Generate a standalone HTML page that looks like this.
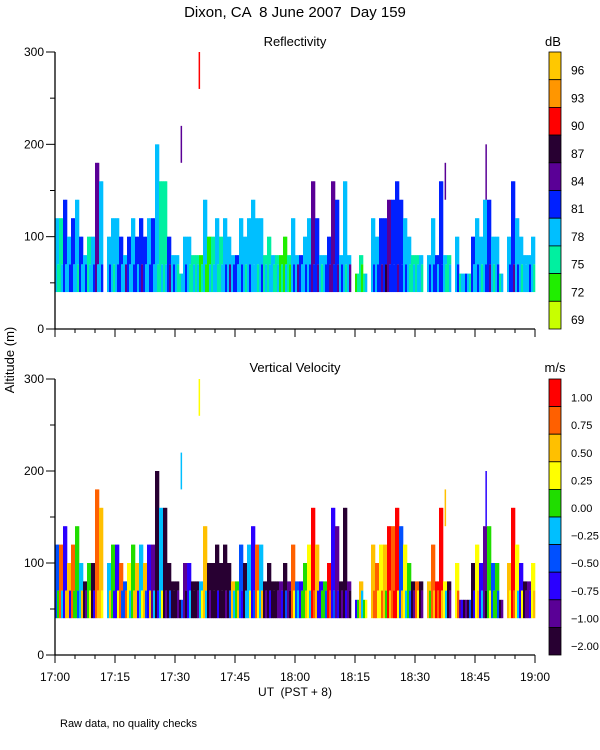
<!DOCTYPE html>
<html><head><meta charset="utf-8"><style>
html,body{margin:0;padding:0;background:#fff;}
svg{display:block;}
text{font-family:"Liberation Sans",sans-serif;fill:#000;white-space:pre;}
</style></head><body>
<svg id="chart" width="600" height="750" xmlns="http://www.w3.org/2000/svg">
<text x="295" y="17" font-size="15" text-anchor="middle" xml:space="preserve">Dixon, CA  8 June 2007  Day 159</text>
<text x="295" y="46" font-size="13" text-anchor="middle">Reflectivity</text>
<text x="553" y="46" font-size="13" text-anchor="middle">dB</text>
<text x="295" y="372" font-size="13" text-anchor="middle">Vertical Velocity</text>
<text x="555" y="372" font-size="13" text-anchor="middle">m/s</text>
<text x="0" y="0" font-size="13" text-anchor="middle" transform="translate(14,360) rotate(-90)">Altitude (m)</text>
<text x="295" y="696" font-size="12" text-anchor="middle" xml:space="preserve">UT  (PST + 8)</text>
<text x="60" y="727" font-size="11">Raw data, no quality checks</text>
<g id="g"></g>
</svg>
<script>
const tops = [120,120,140,100,120,140,100,80,100,100, 180,160,0,100,120,120,100,80,100,120, 100,120,100,120,120,200,160,160,100,80, 80,60,100,100,80,80,80,140,100,100, 120,100,120,100,80,80,120,100,120,140, 120,120,80,100,80,80,80,100,80,120, 80,80,100,120,160,120,80,80,100,160, 140,80,160,80,0,60,80,60,0,120, 100,120,120,140,140,160,140,120,100,80, 80,80,0,80,120,80,160,80,80,0, 100,60,60,60,100,120,100,140,140,100, 100,60,0,100,160,120,100,80,80,100];
const refl = [78,75,81,78,81,78,81,78,75,78, 84,78,0,78,78,78,81,78,81,78, 81,81,81,78,81,78,75,75,81,78, 78,75,78,78,75,75,72,78,72,75, 78,75,78,78,78,81,78,78,78,78, 78,78,75,75,78,75,72,72,75,78, 78,81,78,78,84,81,78,78,81,84, 81,78,78,78,0,72,75,75,0,78, 78,81,81,84,81,81,81,78,78,75, 75,78,0,78,78,81,81,78,75,0, 78,75,78,78,81,78,78,78,81,78, 78,75,0,78,81,78,78,78,78,78];
const refl2 = [75,78,78,81,78,75,78,81,78,81, 78,81,0,81,75,81,78,84,78,81, 78,84,78,81,78,75,78,78,84,81, 75,78,81,75,78,78,75,72,78,78, 75,78,81,84,81,78,81,75,81,78, 75,81,78,78,75,78,75,78,72,81, 84,78,81,81,81,84,75,81,84,81, 84,81,75,84,0,75,72,78,0,81, 81,84,87,81,81,84,81,81,75,78, 78,75,0,81,81,78,81,75,78,0, 81,78,81,75,78,81,75,81,84,75, 81,78,0,81,84,81,75,78,81,75];
const vel = [-0.5,0.75,-0.75,0.5,0.75,0,-0.25,-2,0,-2, 0.75,0.5,0,-0.25,0,-0.75,0.75,-0.5,0.25,0, 0.5,-0.25,0.5,-0.75,-1,-2,-0.25,-2,-2,-2, -2,-2,-1,-0.75,-2,-2,-0.25,0.5,-2,-2, -2,-2,-2,-2,0.5,0,-0.5,-2,-0.25,-0.75, 0.75,-0.25,-2,-2,-2,-2,-1,-2,-1,0.75, -0.5,-0.75,0,0.25,1,0.5,-0.75,0,1,-0.75, -1,-2,-2,-1,0,-0.75,0.5,0,0,0.5, 0.75,0.25,0.5,1,0.75,1,-0.5,0.25,0,-2, 0.75,-2,0,0.5,0.75,1,1,0.25,-2,0, 0.25,-1,-2,-2,-2,0.25,-0.75,-1,0,-0.5, 0,-2,0,0.5,1,0.25,-0.75,-2,-1,0.25];
const vel2 = [0,-0.25,0.5,-0.75,0,-0.5,0.5,-1,0.25,-0.75, 0.5,0.25,0,0.5,-0.75,0.25,-0.5,0.75,-0.25,0.5, -0.75,0.25,-0.5,0.5,-0.25,-0.75,0.25,-1,-0.5,-2, -1,-0.5,-2,-0.25,-2,-1,0.25,-0.25,-1,-2, -0.75,-2,-1,-0.5,-0.25,0.5,-0.75,-0.25,0.25,-0.5, 0.25,0.5,-1,-0.75,-2,-1,-0.75,-0.5,-2,0.25, -0.25,0,0.5,-0.25,0.75,-0.75,0,-0.5,0.75,-0.5, -0.75,-1,-0.75,-2,0,0,-0.25,0.25,0,0.75, 0.25,0.75,0,0.5,1,0.25,0.5,-0.25,-0.5,-1, 0.25,-1,0,0,0.5,0.75,0.5,-0.25,-1,0, 0.75,-0.75,-1,-0.5,-0.75,0.5,-0.25,-2,0.25,0, -0.5,-1,0,0.25,0.75,-0.25,0.25,-1,-0.75,0.5];
const spikeTime = [31.4,35.9,97.4,107.6];
const spikeBottom = [180,260,140,140];
const spikeTop = [220,300,180,200];
const spikeRefl = [84,90,84,84];
const spikeVel = [-0.25,0.25,0.5,-0.75];
const yTicks = [0,100,200,300];
const xTickLabels = ["17:00","17:15","17:30","17:45","18:00","18:15","18:30","18:45","19:00"];
const reflLabels = ["96","93","90","87","84","81","78","75","72","69"];
const velLabels = ["1.00","0.75","0.50","0.25","0.00","\u22120.25","\u22120.50","\u22120.75","\u22121.00","\u22122.00"];

const reflColors=["#ffc800","#ff9600","#ff0000","#280032","#5a0096","#0020ff","#00bfff","#00f0a0","#20ee00","#c8ff00"];
const velColors=["#ff0000","#ff6000","#ffc000","#ffff00","#20dd00","#00bfff","#0050ff","#2a00ff","#5a0096","#280032"];
const reflThr=[96,93,90,87,84,81,78,75,72,-1e9];
const velThr=[1,0.75,0.5,0.25,0,-0.25,-0.5,-0.75,-1,-1e9];
function binOf(v,thr){for(let i=0;i<thr.length;i++){if(v>=thr[i]-1e-9)return i;}return thr.length-1;}

const X0=55,X1=535,MIN=120;
const xs=m=>X0+(X1-X0)*m/MIN;
const panels=[{name:'reflectivity',y0:329,y300:52,colors:reflColors,thr:reflThr,a:refl,b:refl2,sp:spikeRefl,labels:reflLabels,xl:false},
 {name:'velocity',y0:655,y300:379,colors:velColors,thr:velThr,a:vel,b:vel2,sp:spikeVel,labels:velLabels,xl:true}];
const NS='http://www.w3.org/2000/svg';
const g=document.getElementById('g');
function mk(tag,attrs,parent){const e=document.createElementNS(NS,tag);for(const k in attrs)e.setAttribute(k,attrs[k]);(parent||g).appendChild(e);return e;}

panels.forEach(p=>{
  const ys=v=>p.y0+(p.y300-p.y0)*v/300;
  const pg=mk('g',{});
  
  
  const dg=mk('g',{},pg);
  
  
  for(let i=0;i<tops.length;i++){
    if(!tops[i])continue;
    const x=xs(i),w=xs(i+1)-x;
    const yT=ys(tops[i]),yB=ys(40),yM=ys(70);
    const r1=mk('rect',{x:x,y:yT,width:w/2+0.3,height:yB-yT,fill:p.colors[binOf(p.a[i],p.thr)]},dg);
    
    
    const r2=mk('rect',{x:x+w/2,y:yT,width:w/2+0.3,height:yM-yT>0?yM-yT:0,fill:p.colors[binOf(p.a[i],p.thr)]},dg);
    
    
    const r3=mk('rect',{x:x+w/2,y:Math.max(yM,yT),width:w/2+0.3,height:yB-Math.max(yM,yT),fill:p.colors[binOf(p.b[i],p.thr)]},dg);
    
    
  }
  for(let k=0;k<spikeTime.length;k++){
    const s=mk('rect',{x:xs(spikeTime[k]),y:ys(spikeTop[k]),width:1.5,height:ys(spikeBottom[k])-ys(spikeTop[k]),fill:p.colors[binOf(p.sp[k],p.thr)]},dg);
    
    
  }
  const ax=mk('path',{d:`M${X0},${p.y300}V${p.y0}H${X1}`,stroke:'#000','stroke-width':1.3,fill:'none'},pg);
  
  
  for(let v=0;v<=300;v+=50){
    const major=v%100===0;
    const t=mk('line',{x1:X0-(major?9:5),x2:X0,y1:ys(v),y2:ys(v),stroke:'#000','stroke-width':1},pg);
    
    
  }
  yTicks.forEach(v=>{
    const t=mk('text',{x:X0-11,y:ys(v)+4,'font-size':12,'text-anchor':'end'},pg);
    t.textContent=v;
    
    
  });
  for(let m=0;m<=MIN;m+=5){
    const major=m%15===0;
    const t=mk('line',{x1:xs(m),x2:xs(m),y1:p.y0,y2:p.y0+(major?8:4),stroke:'#000','stroke-width':1},pg);
    
    
  }
  if(p.xl){xTickLabels.forEach((l,i)=>{
    const t=mk('text',{x:xs(i*15),y:p.y0+26,'font-size':12,'text-anchor':'middle'},pg);
    t.textContent=l;
    
    
  });}
  const cb=mk('g',{},pg);
  
  
  const h=(p.y0-p.y300)/10;
  for(let i=0;i<10;i++){
    const r=mk('rect',{x:549,y:p.y300+i*h,width:12,height:h,fill:p.colors[i],stroke:'#000','stroke-width':0.8},cb);
    
    
    const t=mk('text',{x:571,y:p.y300+(i+1)*h-5,'font-size':p.xl?11:12},cb);
    t.textContent=p.labels[i];
    
    
  }
});
</script>
</body></html>
